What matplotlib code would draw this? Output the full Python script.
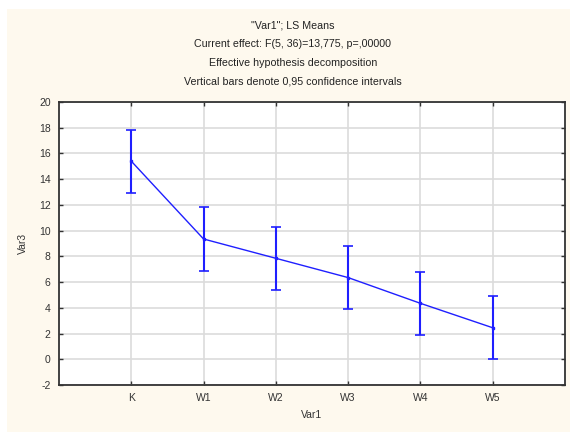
import matplotlib.pyplot as plt
from matplotlib.patches import Rectangle

# LS means of Var3 per Var1 group, with 0.95 confidence half-widths
groups = ['K', 'W1', 'W2', 'W3', 'W4', 'W5']
means = [15.4, 9.35, 7.85, 6.35, 4.35, 2.45]
ci = [2.45, 2.45, 2.45, 2.45, 2.45, 2.45]
title_lines = ['"Var1"; LS Means',
               'Current effect: F(5, 36)=13,775, p=,00000',
               'Effective hypothesis decomposition',
               'Vertical bars denote 0,95 confidence intervals']

plt.rcParams['font.family'] = ['Liberation Sans', 'DejaVu Sans']
plt.rcParams['axes.unicode_minus'] = False
W, H = 570, 432
fig = plt.figure(figsize=(W / 100, H / 100), dpi=100)
fig.patch.set_facecolor('white')
# cream panel behind everything
fig.patches.append(Rectangle((7 / W, 0), 1 - 7 / W, 1 - 9 / H, transform=fig.transFigure,
                             facecolor='#fef9ee', edgecolor='none', zorder=-10))

ax = fig.add_axes([59 / W, 1 - 385 / H, (565 - 59) / W, (385 - 102) / H])
ax.set_facecolor('white')
x = list(range(len(groups)))
ax.errorbar(x, means, yerr=ci, color='#1f1fff', lw=1, marker='s', ms=2,
            capsize=3.5, capthick=1.2, elinewidth=1.5, zorder=3)

ax.set_xlim(-1, 6)
ax.set_ylim(-2, 20)
ax.set_xticks(x)
ax.set_xticklabels(groups)
ax.set_yticks(range(-2, 21, 2))
ax.grid(True, color='#dcdcdc', lw=1.2)
ax.set_axisbelow(True)
ax.tick_params(direction='in', length=3, width=1, labelsize=7.5, colors='#333333',
               top=True, right=True, pad=6)
for s in ax.spines.values():
    s.set_color('#333333')
    s.set_linewidth(1.3)

ax.set_xlabel('Var1', fontsize=7.5, color='#333333', labelpad=5)
ax.set_ylabel('Var3', fontsize=7.5, color='#333333', labelpad=8)

for i, line in enumerate(title_lines):
    fig.text(293 / W, 1 - (25 + i * 19) / H, line, ha='center', va='center',
             fontsize=7.7, color='#222222')

fig.savefig('out.png', dpi=100)
